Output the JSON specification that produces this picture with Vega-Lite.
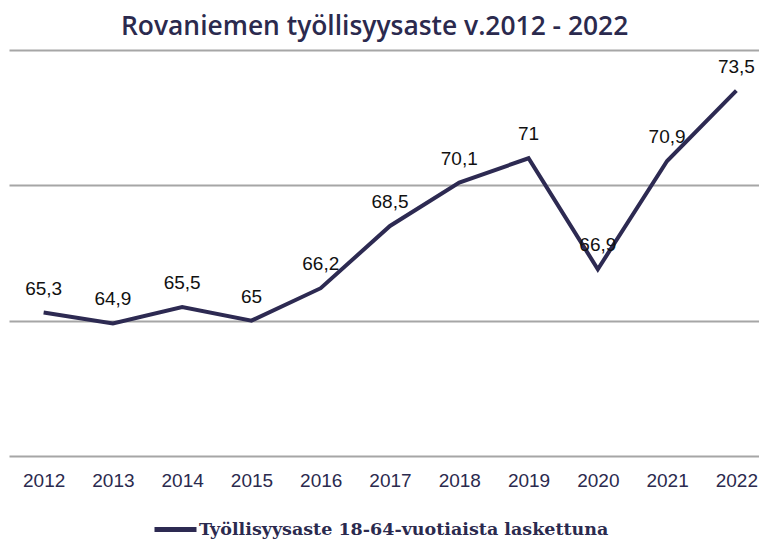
{
  "$schema": "https://vega.github.io/schema/vega-lite/v6.json",
  "autosize": {"type": "none"},
  "padding": {"left": 9, "top": 50, "right": 0, "bottom": 83},
  "width": 762,
  "height": 406,
  "background": "white",
  "title": {
    "text": "Rovaniemen työllisyysaste v.2012 - 2022",
    "font": "Open Sans",
    "fontSize": 26.4,
    "fontWeight": 600,
    "color": "#2b2a4e",
    "anchor": "start",
    "dx": 112,
    "offset": 10
  },
  "config": {
    "view": {"stroke": null},
    "locale": {"number": {"decimal": ",", "thousands": " ", "grouping": [3], "currency": ["", " €"]}}
  },
  "data": {
    "values": [
      {"year": "2012", "value": 65.3, "series": "Työllisyysaste 18-64-vuotiaista laskettuna"},
      {"year": "2013", "value": 64.9, "series": "Työllisyysaste 18-64-vuotiaista laskettuna"},
      {"year": "2014", "value": 65.5, "series": "Työllisyysaste 18-64-vuotiaista laskettuna"},
      {"year": "2015", "value": 65.0, "series": "Työllisyysaste 18-64-vuotiaista laskettuna"},
      {"year": "2016", "value": 66.2, "series": "Työllisyysaste 18-64-vuotiaista laskettuna"},
      {"year": "2017", "value": 68.5, "series": "Työllisyysaste 18-64-vuotiaista laskettuna"},
      {"year": "2018", "value": 70.1, "series": "Työllisyysaste 18-64-vuotiaista laskettuna"},
      {"year": "2019", "value": 71.0, "series": "Työllisyysaste 18-64-vuotiaista laskettuna"},
      {"year": "2020", "value": 66.9, "series": "Työllisyysaste 18-64-vuotiaista laskettuna"},
      {"year": "2021", "value": 70.9, "series": "Työllisyysaste 18-64-vuotiaista laskettuna"},
      {"year": "2022", "value": 73.5, "series": "Työllisyysaste 18-64-vuotiaista laskettuna"}
    ]
  },
  "encoding": {
    "x": {
      "field": "year", "type": "ordinal",
      "scale": {"type": "point", "padding": 0.5},
      "axis": {
        "title": null, "domain": false, "ticks": false, "grid": false,
        "labelAngle": 0, "labelFont": "Liberation Sans", "labelFontSize": 19,
        "labelColor": "#2b2a4e", "labelPadding": 15
      }
    },
    "y": {
      "field": "value", "type": "quantitative",
      "scale": {"domain": [60, 75], "nice": false, "zero": false},
      "axis": {
        "title": null, "labels": false, "ticks": false, "domain": false,
        "values": [60, 65, 70, 75], "gridColor": "#a6a6a6", "gridWidth": 2
      }
    }
  },
  "layer": [
    {
      "mark": {"type": "line", "strokeWidth": 4, "strokeJoin": "miter"},
      "encoding": {
        "color": {
          "field": "series", "type": "nominal",
          "scale": {"range": ["#2d2a52"]},
          "legend": {
            "title": null, "orient": "none", "legendX": 143, "legendY": 456,
            "symbolType": "stroke", "symbolStrokeWidth": 5, "symbolSize": 1764,
            "labelFont": "DejaVu Serif", "labelFontSize": 17.5, "labelFontWeight": "bold",
            "labelColor": "#2b2a4e", "labelLimit": 600, "labelOffset": 0
          }
        }
      }
    },
    {
      "mark": {"type": "text", "dy": -24, "font": "Liberation Sans", "fontSize": 19, "color": "#111111"},
      "encoding": {
        "text": {"field": "value", "type": "quantitative", "format": ".1~f"}
      }
    }
  ]
}
